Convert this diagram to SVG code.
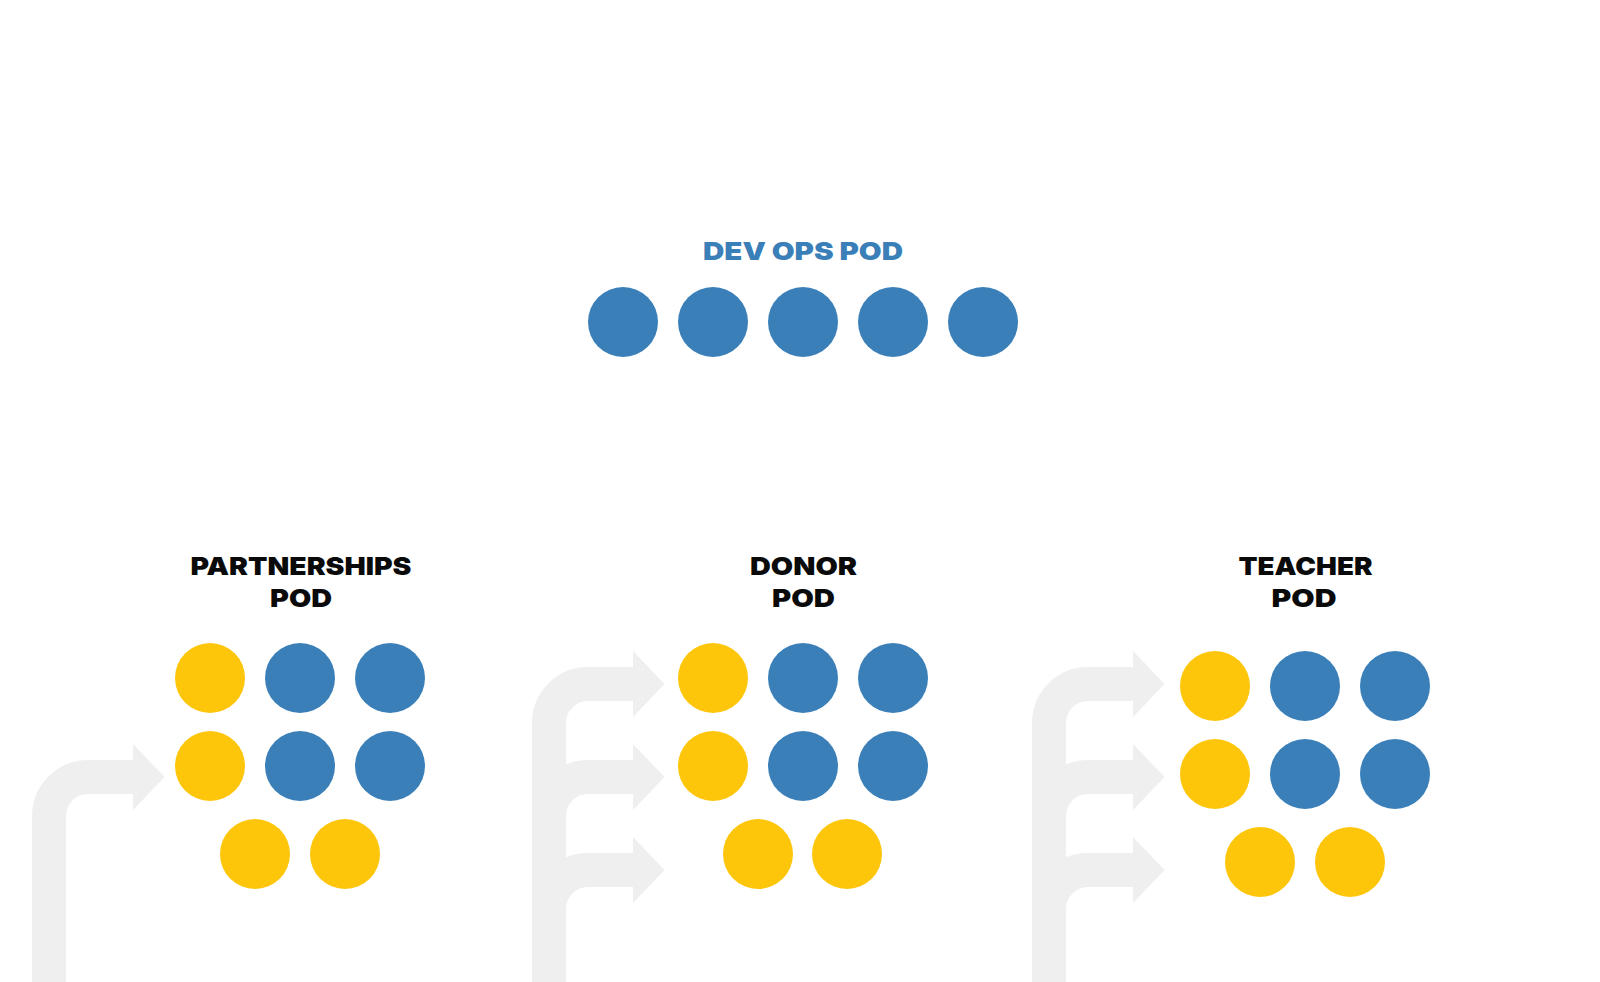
<svg xmlns="http://www.w3.org/2000/svg" xmlns:xlink="http://www.w3.org/1999/xlink" width="1600" height="982" viewBox="0 0 1600 982">
  <style>
    .blue { fill: #3a7fb8; }
    .yellow { fill: #fec60b; }
    .title { font-family: Inter, "Open Sans", "Liberation Sans", sans-serif; font-weight: 900; font-size: 25px; text-anchor: middle; fill: #0a0a0a; }
    .devtitle { fill: #3a7fb8; }
    .arm { fill: none; stroke: #efefef; stroke-width: 34; stroke-linecap: butt; stroke-linejoin: miter; }
    .head { fill: #efefef; }
  </style>
  <defs>
    <path id="arrowhead" d="M-31,-33 L0.5,0 L-31,33 Z"/>
  </defs>
  <rect width="1600" height="982" fill="#ffffff"/>

  <g id="connectors">
    <!-- Partnerships feed -->
    <path class="arm" d="M49 990 V816 A39 39 0 0 1 88 777 H134"/>
    <use xlink:href="#arrowhead" class="head" transform="translate(164,777)"/>
    <!-- Donor feed -->
    <path class="arm" d="M549 990 V909 A39 39 0 0 1 588 870 H634"/>
    <path class="arm" d="M549 990 V816 A39 39 0 0 1 588 777 H634"/>
    <path class="arm" d="M549 990 V723 A39 39 0 0 1 588 684 H634"/>
    <use xlink:href="#arrowhead" class="head" transform="translate(664,684)"/>
    <use xlink:href="#arrowhead" class="head" transform="translate(664,777)"/>
    <use xlink:href="#arrowhead" class="head" transform="translate(664,870)"/>
    <!-- Teacher feed -->
    <path class="arm" d="M1049 990 V909 A39 39 0 0 1 1088 870 H1134"/>
    <path class="arm" d="M1049 990 V816 A39 39 0 0 1 1088 777 H1134"/>
    <path class="arm" d="M1049 990 V723 A39 39 0 0 1 1088 684 H1134"/>
    <use xlink:href="#arrowhead" class="head" transform="translate(1164,684)"/>
    <use xlink:href="#arrowhead" class="head" transform="translate(1164,777)"/>
    <use xlink:href="#arrowhead" class="head" transform="translate(1164,870)"/>
  </g>

  <g id="devops-pod">
    <text class="title devtitle" x="803" y="260" textLength="200" lengthAdjust="spacingAndGlyphs">DEV OPS POD</text>
    <circle class="blue" cx="623" cy="322" r="35"/>
    <circle class="blue" cx="713" cy="322" r="35"/>
    <circle class="blue" cx="803" cy="322" r="35"/>
    <circle class="blue" cx="893" cy="322" r="35"/>
    <circle class="blue" cx="983" cy="322" r="35"/>
  </g>

  <g id="partnerships-pod">
    <text class="title" x="301" y="575" textLength="221" lengthAdjust="spacingAndGlyphs">PARTNERSHIPS</text>
    <text class="title" x="301" y="607" textLength="62" lengthAdjust="spacingAndGlyphs">POD</text>
    <circle class="yellow" cx="210" cy="678" r="35"/>
    <circle class="blue" cx="300" cy="678" r="35"/>
    <circle class="blue" cx="390" cy="678" r="35"/>
    <circle class="yellow" cx="210" cy="766" r="35"/>
    <circle class="blue" cx="300" cy="766" r="35"/>
    <circle class="blue" cx="390" cy="766" r="35"/>
    <circle class="yellow" cx="255" cy="854" r="35"/>
    <circle class="yellow" cx="345" cy="854" r="35"/>
  </g>

  <g id="donor-pod">
    <text class="title" x="803.5" y="575" textLength="107" lengthAdjust="spacingAndGlyphs">DONOR</text>
    <text class="title" x="803.5" y="607" textLength="63" lengthAdjust="spacingAndGlyphs">POD</text>
    <circle class="yellow" cx="713" cy="678" r="35"/>
    <circle class="blue" cx="803" cy="678" r="35"/>
    <circle class="blue" cx="893" cy="678" r="35"/>
    <circle class="yellow" cx="713" cy="766" r="35"/>
    <circle class="blue" cx="803" cy="766" r="35"/>
    <circle class="blue" cx="893" cy="766" r="35"/>
    <circle class="yellow" cx="758" cy="854" r="35"/>
    <circle class="yellow" cx="847" cy="854" r="35"/>
  </g>

  <g id="teacher-pod">
    <text class="title" x="1305.5" y="575" textLength="134" lengthAdjust="spacingAndGlyphs">TEACHER</text>
    <text class="title" x="1304" y="607" textLength="65" lengthAdjust="spacingAndGlyphs">POD</text>
    <circle class="yellow" cx="1215" cy="686" r="35"/>
    <circle class="blue" cx="1305" cy="686" r="35"/>
    <circle class="blue" cx="1395" cy="686" r="35"/>
    <circle class="yellow" cx="1215" cy="774" r="35"/>
    <circle class="blue" cx="1305" cy="774" r="35"/>
    <circle class="blue" cx="1395" cy="774" r="35"/>
    <circle class="yellow" cx="1260" cy="862" r="35"/>
    <circle class="yellow" cx="1350" cy="862" r="35"/>
  </g>
</svg>
